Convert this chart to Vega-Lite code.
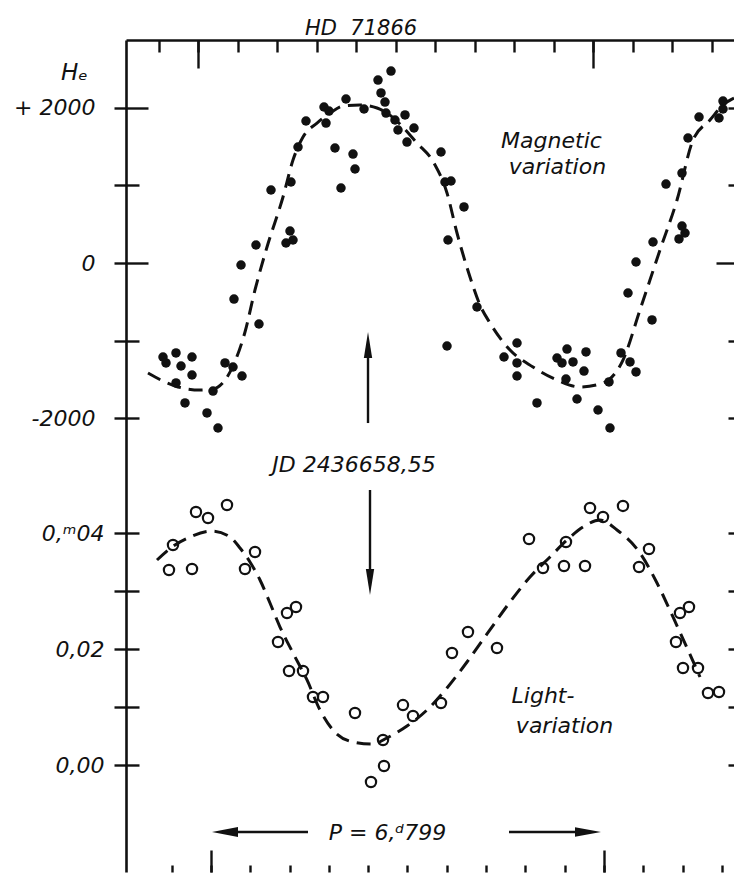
{
  "$schema": "https://vega.github.io/schema/vega-lite/v6.json",
  "width": 608,
  "height": 832,
  "autosize": {"type": "none"},
  "padding": {"left": 126, "top": 40, "right": 0, "bottom": 1},
  "background": "white",
  "title": {"text": "HD\u00a0\u00a071866", "font": "DejaVu Sans", "fontStyle": "italic", "fontWeight": "normal", "fontSize": 21, "color": "#111", "anchor": "start", "frame": "group", "dx": 179, "offset": 0},
  "config": {
    "view": {"stroke": null},
    "axis": {"grid": false, "domainColor": "#111", "tickColor": "#111", "domainWidth": 2.6, "tickWidth": 2.4, "labelFont": "DejaVu Sans", "labelFontStyle": "italic", "labelFontSize": 22, "labelColor": "#111", "labelOverlap": false, "labelFlush": false, "labelBound": false, "titleFont": "DejaVu Sans", "titleFontStyle": "italic", "titleFontWeight": "normal", "titleColor": "#111"}
  },
  "datasets": {
    "mag": [
      {"p": -0.0886, "v": -1213}, {"p": -0.081, "v": -1290}, {"p": -0.0557, "v": -1161}, {"p": -0.0152, "v": -1213}, {"p": -0.043, "v": -1329}, {"p": -0.0152, "v": -1445}, {"p": -0.0557, "v": -1548}, {"p": 0.0684, "v": -1290}, {"p": 0.0886, "v": -1342}, {"p": 0.1114, "v": -1458}, {"p": 0.038, "v": -1652}, {"p": -0.0329, "v": -1806}, {"p": 0.0228, "v": -1935}, {"p": 0.0506, "v": -2129}, {"p": 0.0911, "v": -465}, {"p": 0.1089, "v": -26}, {"p": 0.1544, "v": -787}, {"p": 0.1468, "v": 232}, {"p": 0.2228, "v": 258}, {"p": 0.2329, "v": 413}, {"p": 0.2405, "v": 297}, {"p": 0.1848, "v": 942}, {"p": 0.2354, "v": 1045}, {"p": 0.2532, "v": 1497}, {"p": 0.2734, "v": 1832}, {"p": 0.319, "v": 2013}, {"p": 0.3316, "v": 1961}, {"p": 0.3241, "v": 1806}, {"p": 0.3747, "v": 2116}, {"p": 0.3468, "v": 1484}, {"p": 0.3924, "v": 1406}, {"p": 0.3975, "v": 1213}, {"p": 0.362, "v": 968}, {"p": 0.4203, "v": 1987}, {"p": 0.4557, "v": 2361}, {"p": 0.4886, "v": 2477}, {"p": 0.4633, "v": 2194}, {"p": 0.4734, "v": 2077}, {"p": 0.4759, "v": 1935}, {"p": 0.4987, "v": 1845}, {"p": 0.5241, "v": 1910}, {"p": 0.5063, "v": 1716}, {"p": 0.5468, "v": 1742}, {"p": 0.5291, "v": 1561}, {"p": 0.6152, "v": 1432}, {"p": 0.6253, "v": 1045}, {"p": 0.6405, "v": 1058}, {"p": 0.6734, "v": 723}, {"p": 0.6329, "v": 297}, {"p": 0.7063, "v": -568}, {"p": 0.6304, "v": -1071}, {"p": 0.8076, "v": -1032}, {"p": 0.7747, "v": -1213}, {"p": 0.8076, "v": -1290}, {"p": 0.8076, "v": -1458}, {"p": 0.8582, "v": -1806}, {"p": 0.9342, "v": -1110}, {"p": 0.9823, "v": -1148}, {"p": 0.9089, "v": -1226}, {"p": 0.9215, "v": -1290}, {"p": 0.9494, "v": -1277}, {"p": 0.9772, "v": -1394}, {"p": 0.9316, "v": -1497}, {"p": 0.9595, "v": -1755}, {"p": 1.0127, "v": -1897}, {"p": 1.043, "v": -2129}, {"p": 1.0405, "v": -1535}, {"p": 1.0709, "v": -1161}, {"p": 1.0937, "v": -1277}, {"p": 1.1089, "v": -1406}, {"p": 1.0886, "v": -387}, {"p": 1.1089, "v": 13}, {"p": 1.1494, "v": -735}, {"p": 1.1519, "v": 271}, {"p": 1.2177, "v": 310}, {"p": 1.2329, "v": 387}, {"p": 1.2253, "v": 477}, {"p": 1.1848, "v": 1019}, {"p": 1.2253, "v": 1161}, {"p": 1.2405, "v": 1613}, {"p": 1.2684, "v": 1884}, {"p": 1.319, "v": 1871}, {"p": 1.3291, "v": 1987}, {"p": 1.3291, "v": 2090}
    ],
    "magfit": [
      {"p": -0.1266, "v": -1419}, {"p": -0.0582, "v": -1587}, {"p": 0.0051, "v": -1639}, {"p": 0.038, "v": -1626}, {"p": 0.0886, "v": -1329}, {"p": 0.119, "v": -890}, {"p": 0.1443, "v": -348}, {"p": 0.1747, "v": 206}, {"p": 0.2152, "v": 852}, {"p": 0.2405, "v": 1329}, {"p": 0.2658, "v": 1626}, {"p": 0.3013, "v": 1806}, {"p": 0.3342, "v": 1935}, {"p": 0.3671, "v": 2026}, {"p": 0.4101, "v": 2039}, {"p": 0.4532, "v": 2000}, {"p": 0.4785, "v": 1935}, {"p": 0.5544, "v": 1548}, {"p": 0.5975, "v": 1290}, {"p": 0.6304, "v": 903}, {"p": 0.6557, "v": 387}, {"p": 0.6886, "v": -181}, {"p": 0.7139, "v": -542}, {"p": 0.7392, "v": -774}, {"p": 0.7899, "v": -1123}, {"p": 0.8481, "v": -1342}, {"p": 0.9089, "v": -1510}, {"p": 0.9671, "v": -1600}, {"p": 1.0253, "v": -1548}, {"p": 1.0759, "v": -1252}, {"p": 1.119, "v": -606}, {"p": 1.1696, "v": 168}, {"p": 1.2127, "v": 813}, {"p": 1.2532, "v": 1587}, {"p": 1.2962, "v": 1845}, {"p": 1.3291, "v": 2039}, {"p": 1.357, "v": 2129}
    ],
    "light": [
      {"p": -0.0382, "v": 0.04362}, {"p": -0.0076, "v": 0.04259}, {"p": 0.0407, "v": 0.04483}, {"p": -0.0967, "v": 0.03793}, {"p": -0.1069, "v": 0.03362}, {"p": -0.0483, "v": 0.03379}, {"p": 0.112, "v": 0.03672}, {"p": 0.0865, "v": 0.03379}, {"p": 0.1934, "v": 0.02621}, {"p": 0.2163, "v": 0.02724}, {"p": 0.1705, "v": 0.02121}, {"p": 0.1985, "v": 0.01621}, {"p": 0.2341, "v": 0.01621}, {"p": 0.2595, "v": 0.01172}, {"p": 0.285, "v": 0.01172}, {"p": 0.3664, "v": 0.00897}, {"p": 0.4377, "v": 0.00431}, {"p": 0.4402, "v": -0.00017}, {"p": 0.4071, "v": -0.00293}, {"p": 0.4885, "v": 0.01034}, {"p": 0.514, "v": 0.00845}, {"p": 0.5852, "v": 0.01069}, {"p": 0.6132, "v": 0.01931}, {"p": 0.6539, "v": 0.02293}, {"p": 0.7277, "v": 0.02017}, {"p": 0.8092, "v": 0.03897}, {"p": 0.8448, "v": 0.03397}, {"p": 0.9033, "v": 0.03845}, {"p": 0.8982, "v": 0.03431}, {"p": 0.9517, "v": 0.03431}, {"p": 0.9644, "v": 0.04431}, {"p": 0.9975, "v": 0.04276}, {"p": 1.0483, "v": 0.04466}, {"p": 1.1145, "v": 0.03724}, {"p": 1.0891, "v": 0.03414}, {"p": 1.2163, "v": 0.02724}, {"p": 1.1934, "v": 0.02621}, {"p": 1.1832, "v": 0.02121}, {"p": 1.201, "v": 0.01672}, {"p": 1.2392, "v": 0.01672}, {"p": 1.2646, "v": 0.01241}, {"p": 1.2926, "v": 0.01259}
    ],
    "lightfit": [
      {"p": -0.1374, "v": 0.03534}, {"p": -0.0992, "v": 0.03759}, {"p": -0.0534, "v": 0.03931}, {"p": 0.0025, "v": 0.04034}, {"p": 0.0483, "v": 0.03931}, {"p": 0.0738, "v": 0.03741}, {"p": 0.0992, "v": 0.035}, {"p": 0.1247, "v": 0.0319}, {"p": 0.1501, "v": 0.02793}, {"p": 0.1756, "v": 0.02379}, {"p": 0.2087, "v": 0.01931}, {"p": 0.2443, "v": 0.01466}, {"p": 0.2774, "v": 0.00948}, {"p": 0.3104, "v": 0.00603}, {"p": 0.3613, "v": 0.00397}, {"p": 0.4122, "v": 0.00362}, {"p": 0.4478, "v": 0.00466}, {"p": 0.4987, "v": 0.00672}, {"p": 0.5496, "v": 0.00948}, {"p": 0.6005, "v": 0.01328}, {"p": 0.6514, "v": 0.01776}, {"p": 0.7023, "v": 0.02259}, {"p": 0.7608, "v": 0.0281}, {"p": 0.8117, "v": 0.03241}, {"p": 0.8626, "v": 0.03586}, {"p": 0.9059, "v": 0.03879}, {"p": 0.9466, "v": 0.04103}, {"p": 0.9898, "v": 0.04224}, {"p": 1.0331, "v": 0.04052}, {"p": 1.0916, "v": 0.03655}, {"p": 1.1349, "v": 0.03138}, {"p": 1.1756, "v": 0.02552}, {"p": 1.2137, "v": 0.01983}, {"p": 1.2443, "v": 0.01517}
    ]
  },
  "layer": [
    {
      "data": {"name": "mag"},
      "mark": {"type": "circle", "size": 90, "color": "#111", "opacity": 1},
      "encoding": {
        "x": {"field": "p", "type": "quantitative", "scale": {"domain": [-0.18228, 1.35696], "nice": false, "zero": false},
          "axis": {"orient": "top", "values": [-0.1, 0, 0.1, 0.2, 0.3, 0.4, 0.5, 0.6, 0.7, 0.8, 0.9, 1, 1.1, 1.2, 1.3], "tickSize": -12, "labels": false, "domain": true, "title": null}},
        "y": {"field": "v", "type": "quantitative", "scale": {"domain": [-7858, 2877.4], "nice": false, "zero": false},
          "axis": {"orient": "left", "values": [-2000, -1000, 0, 1000, 2000], "tickSize": 12, "labelPadding": 19, "domain": true,
            "labelExpr": "datum.value == 2000 ? '+ 2000' : datum.value == -2000 ? '-2000' : datum.value == 0 ? '0' : ''",
            "title": "Hₑ", "titleAngle": 0, "titleX": -52, "titleY": 32, "titleAlign": "center", "titleBaseline": "middle", "titleFontSize": 23}}
      }
    },
    {
      "data": {"name": "magfit"},
      "mark": {"type": "line", "color": "#111", "strokeWidth": 3, "strokeDash": [14, 8], "interpolate": "monotone"},
      "encoding": {
        "x": {"field": "p", "type": "quantitative", "scale": {"domain": [-0.18228, 1.35696], "nice": false, "zero": false},
          "axis": {"orient": "top", "values": [0, 1], "tickSize": -28, "labels": false, "domain": false, "title": null}},
        "y": {"field": "v", "type": "quantitative", "scale": {"domain": [-7858, 2877.4], "nice": false, "zero": false},
          "axis": {"orient": "left", "values": [1000, -1000, -2000], "tickSize": -13, "labels": false, "domain": false, "title": null}}
      }
    },
    {
      "data": {"values": [{"p": 0.4304, "v1": -1058, "v2": -2065}]},
      "mark": {"type": "rule", "color": "#111", "strokeWidth": 2.4},
      "encoding": {
        "x": {"field": "p", "type": "quantitative", "scale": {"domain": [-0.18228, 1.35696], "nice": false, "zero": false}, "axis": null},
        "y": {"field": "v1", "type": "quantitative", "scale": {"domain": [-7858, 2877.4], "nice": false, "zero": false},
          "axis": {"orient": "left", "values": [2000, 0], "tickSize": -22, "labels": false, "domain": false, "title": null}},
        "y2": {"field": "v2"}
      }
    },
    {
      "data": {"values": [{"p": 0.4304, "v": -1058, "dir": "up"}]},
      "mark": {"type": "point", "filled": true, "size": 676, "opacity": 1, "color": "#111"},
      "encoding": {
        "x": {"field": "p", "type": "quantitative", "scale": {"domain": [-0.18228, 1.35696], "nice": false, "zero": false}, "axis": null},
        "y": {"field": "v", "type": "quantitative", "scale": {"domain": [-7858, 2877.4], "nice": false, "zero": false},
          "axis": {"orient": "right", "values": [2000, 1000, -1000, -2000], "tickSize": -6, "labels": false, "domain": false, "title": null}},
        "shape": {"field": "dir", "type": "nominal", "scale": {"domain": ["up"], "range": ["M0,-1L0.32,1L-0.32,1Z"]}, "legend": null}
      }
    },
    {
      "data": {"values": [{"p": 0.8949, "v": 1484, "t": "Magnetic"}, {"p": 0.9101, "v": 1148, "t": "variation"}, {"p": 0.3949, "v": -2697, "t": "JD 2436658,55"}]},
      "mark": {"type": "text", "font": "DejaVu Sans", "fontStyle": "italic", "fontSize": 22, "color": "#111", "align": "center", "baseline": "alphabetic"},
      "encoding": {
        "x": {"field": "p", "type": "quantitative", "scale": {"domain": [-0.18228, 1.35696], "nice": false, "zero": false}, "axis": null},
        "y": {"field": "v", "type": "quantitative", "scale": {"domain": [-7858, 2877.4], "nice": false, "zero": false},
          "axis": {"orient": "right", "values": [0], "tickSize": -18, "labels": false, "domain": false, "title": null}},
        "text": {"field": "t", "type": "nominal"}
      }
    },
    {
      "data": {"name": "light"},
      "mark": {"type": "point", "filled": false, "size": 105, "strokeWidth": 2.2, "color": "#111", "opacity": 1},
      "encoding": {
        "x": {"field": "p", "type": "quantitative", "scale": {"domain": [-0.21628, 1.33079], "nice": false, "zero": false},
          "axis": {"orient": "bottom", "values": [-0.1, 0, 0.1, 0.2, 0.3, 0.4, 0.5, 0.6, 0.7, 0.8, 0.9, 1, 1.1, 1.2, 1.3], "tickSize": -7, "labels": false, "domain": false, "title": null}},
        "y": {"field": "v", "type": "quantitative", "scale": {"domain": [-0.018448, 0.125], "nice": false, "zero": false},
          "axis": {"orient": "left", "values": [0, 0.01, 0.02, 0.03, 0.04], "tickSize": 12, "labelPadding": 10, "domain": false, "title": null,
            "labelExpr": "abs(datum.value - 0.04) < 1e-6 ? '0,ᵐ04' : abs(datum.value - 0.02) < 1e-6 ? '0,02' : abs(datum.value) < 1e-6 ? '0,00' : ''"}}
      }
    },
    {
      "data": {"name": "lightfit"},
      "mark": {"type": "line", "color": "#111", "strokeWidth": 3, "strokeDash": [14, 8], "interpolate": "monotone"},
      "encoding": {
        "x": {"field": "p", "type": "quantitative", "scale": {"domain": [-0.21628, 1.33079], "nice": false, "zero": false},
          "axis": {"orient": "bottom", "values": [0, 1], "tickSize": -22, "labels": false, "domain": false, "title": null}},
        "y": {"field": "v", "type": "quantitative", "scale": {"domain": [-0.018448, 0.125], "nice": false, "zero": false},
          "axis": {"orient": "left", "values": [0, 0.01, 0.02, 0.03, 0.04], "tickSize": -13, "labels": false, "domain": false, "title": null}}
      }
    },
    {
      "data": {"values": [{"p": 0.4046, "v1": 0.04741, "v2": 0.03155}]},
      "mark": {"type": "rule", "color": "#111", "strokeWidth": 2.4},
      "encoding": {
        "x": {"field": "p", "type": "quantitative", "scale": {"domain": [-0.21628, 1.33079], "nice": false, "zero": false}, "axis": null},
        "y": {"field": "v1", "type": "quantitative", "scale": {"domain": [-0.018448, 0.125], "nice": false, "zero": false},
          "axis": {"orient": "right", "values": [0, 0.01, 0.02, 0.03, 0.04], "tickSize": -6, "labels": false, "domain": false, "title": null}},
        "y2": {"field": "v2"}
      }
    },
    {
      "data": {"values": [{"p1": 0.0356, "p2": 0.2468, "v": -0.01155}, {"p1": 0.7583, "p2": 0.9593, "v": -0.01155}]},
      "mark": {"type": "rule", "color": "#111", "strokeWidth": 2.4},
      "encoding": {
        "x": {"field": "p1", "type": "quantitative", "scale": {"domain": [-0.21628, 1.33079], "nice": false, "zero": false}, "axis": null},
        "x2": {"field": "p2"},
        "y": {"field": "v", "type": "quantitative", "scale": {"domain": [-0.018448, 0.125], "nice": false, "zero": false}, "axis": null}
      }
    },
    {
      "data": {"values": [{"p": 0.4046, "v": 0.03155, "dir": "down"}, {"p": 0.0356, "v": -0.01155, "dir": "left"}, {"p": 0.9593, "v": -0.01155, "dir": "right"}]},
      "mark": {"type": "point", "filled": true, "size": 676, "opacity": 1, "color": "#111"},
      "encoding": {
        "x": {"field": "p", "type": "quantitative", "scale": {"domain": [-0.21628, 1.33079], "nice": false, "zero": false}, "axis": null},
        "y": {"field": "v", "type": "quantitative", "scale": {"domain": [-0.018448, 0.125], "nice": false, "zero": false}, "axis": null},
        "shape": {"field": "dir", "type": "nominal", "scale": {"domain": ["down", "left", "right"], "range": ["M0,1L0.32,-1L-0.32,-1Z", "M-1,0L1,-0.38L1,0.38Z", "M1,0L-1,-0.36L-1,0.36Z"]}, "legend": null}
      }
    },
    {
      "data": {"values": [{"p": 0.8448, "v": 0.01069, "t": "Light-"}, {"p": 0.8995, "v": 0.00552, "t": "variation"}, {"p": 0.4491, "v": -0.01293, "t": "P = 6,ᵈ799"}]},
      "mark": {"type": "text", "font": "DejaVu Sans", "fontStyle": "italic", "fontSize": 22, "color": "#111", "align": "center", "baseline": "alphabetic"},
      "encoding": {
        "x": {"field": "p", "type": "quantitative", "scale": {"domain": [-0.21628, 1.33079], "nice": false, "zero": false}, "axis": null},
        "y": {"field": "v", "type": "quantitative", "scale": {"domain": [-0.018448, 0.125], "nice": false, "zero": false}, "axis": null},
        "text": {"field": "t", "type": "nominal"}
      }
    }
  ],
  "resolve": {"scale": {"x": "independent", "y": "independent", "shape": "independent"}, "axis": {"x": "independent", "y": "independent"}}
}
